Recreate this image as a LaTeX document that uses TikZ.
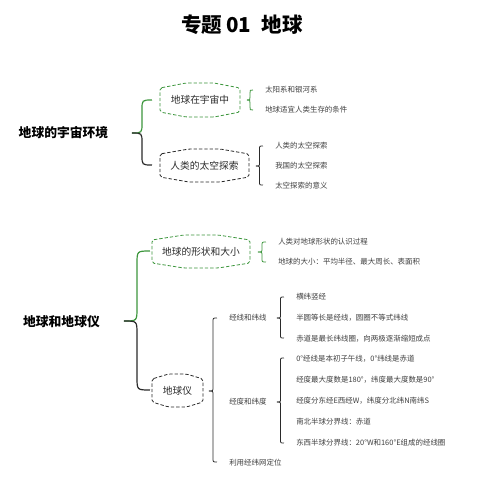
\documentclass[tikz,border=0pt]{standalone}
\usepackage{fontspec}
\setmainfont{Noto Sans CJK SC}
\definecolor{gline}{HTML}{3C963C}
\definecolor{kline}{HTML}{2A2A2A}
\definecolor{itemgray}{HTML}{404040}
\newcommand{\mybrace}[7]{%
  \pgfmathsetmacro\xs{(#1+#3)/2}%
  \pgfmathsetmacro\rr{(#3-#1)/2}%
  \draw[#6] (#3,#4) .. controls (\xs,#4) .. (\xs,#4+\rr) -- (\xs,#2-\rr) .. controls (\xs,#2) .. (#1,#2);
  \draw[#7] (#1,#2) .. controls (\xs,#2) .. (\xs,#2+\rr) -- (\xs,#5-\rr) .. controls (\xs,#5) .. (#3,#5);
}
\newcommand{\hexbox}[7]{%
  \node[boxtext] (#1) at (#2,#3) {#7};
  \draw[#6] (#2-#4,#3-#5+5) -- (#2-0.35*#4,#3-#5) -- (#2+0.35*#4,#3-#5) -- (#2+#4,#3-#5+5)
    -- (#2+#4,#3+#5-5) -- (#2+0.35*#4,#3+#5) -- (#2-0.35*#4,#3+#5) -- (#2-#4,#3+#5-5) -- cycle;
}
\begin{document}
\begin{tikzpicture}[x=0.75pt,y=-0.75pt,
  item/.style={anchor=west,inner sep=0,text=itemgray,font=\fontsize{5.6}{6.5}\selectfont},
  boxtext/.style={inner sep=0,text=kline,font=\fontsize{7.3}{8.5}\selectfont},
  rootnode/.style={inner sep=0,text=black,font=\fontsize{9.6}{11}\selectfont\bfseries},
  gbr/.style={draw=gline,line width=0.9pt},
  kbr/.style={draw=kline,line width=0.9pt},
  gbrs/.style={draw=gline,line width=0.6pt},
  kbrs/.style={draw=kline,line width=0.6pt},
  hexg/.style={draw=gline,line width=0.6pt,dash pattern=on 2.5pt off 1.5pt,rounded corners=1.5pt},
  hexk/.style={draw=kline,line width=0.6pt,dash pattern=on 2.5pt off 1.5pt,rounded corners=1.5pt}]
\useasboundingbox (0,0) rectangle (478,480);
\fill[white] (0,0) rectangle (478,480);
% title
\node[inner sep=0,font=\fontsize{15.4}{17}\selectfont\bfseries] (title) at (242,25) {专题\hspace{3pt}01\hspace{8pt}地球};
% section 1
\node[rootnode] (r1) at (63.5,133) {地球的宇宙环境};
\mybrace{132}{133}{152}{100}{165}{gbr}{kbr}
\hexbox{a1}{200}{100}{40}{17}{hexg}{地球在宇宙中}
\hexbox{a2}{204.5}{165.5}{44.5}{16.5}{hexk}{人类的太空探索}
\mybrace{247}{100}{253}{90}{110}{gbrs}{gbrs}
\node[item] (a11) at (265,90) {太阳系和银河系};
\node[item] (a12) at (265,110) {地球适宜人类生存的条件};
\mybrace{256}{166}{263}{146}{185}{kbrs}{kbrs}
\node[item] (a21) at (275,146) {人类的太空探索};
\node[item] (a22) at (275,166) {我国的太空探索};
\node[item] (a23) at (275,186) {太空探索的意义};
% section 2
\node[rootnode] (r2) at (61.5,322) {地球和地球仪};
\mybrace{124}{321}{150}{251}{390}{gbr}{kbr}
\hexbox{b1}{201}{251.5}{49}{16.5}{hexg}{地球的形状和大小}
\hexbox{b2}{177.5}{390.5}{25.5}{16.5}{hexk}{地球仪}
\mybrace{258}{252}{266}{242}{262}{gbrs}{gbrs}
\node[item] (b11) at (278,242) {人类对地球形状的认识过程};
\node[item] (b12) at (278,262) {地球的大小：平均半径、最大周长、表面积};
\mybrace{209}{391}{217}{318}{462}{kbrs}{kbrs}
\node[item] (c1) at (229,318) {经线和纬线};
\node[item] (c2) at (229,402) {经度和纬度};
\node[item] (c3) at (229,463) {利用经纬网定位};
\mybrace{277}{318}{284}{297}{338}{kbrs}{kbrs}
\node[item] (c11) at (296,297) {横纬竖经};
\node[item] (c12) at (296,318) {半圆等长是经线，圆圈不等式纬线};
\node[item] (c13) at (296,339) {赤道是最长纬线圈，向两极逐渐缩短成点};
\mybrace{277}{402}{284}{358}{443}{kbrs}{kbrs}
\node[item] (c21) at (296,359) {0°经线是本初子午线，0°纬线是赤道};
\node[item] (c22) at (296,380) {经度最大度数是180°，纬度最大度数是90°};
\node[item] (c23) at (296,401) {经度分东经E西经W，纬度分北纬N南纬S};
\node[item] (c24) at (296,422) {南北半球分界线：赤道};
\node[item] (c25) at (296,443) {东西半球分界线：20°W和160°E组成的经线圈};
\end{tikzpicture}
\end{document}
